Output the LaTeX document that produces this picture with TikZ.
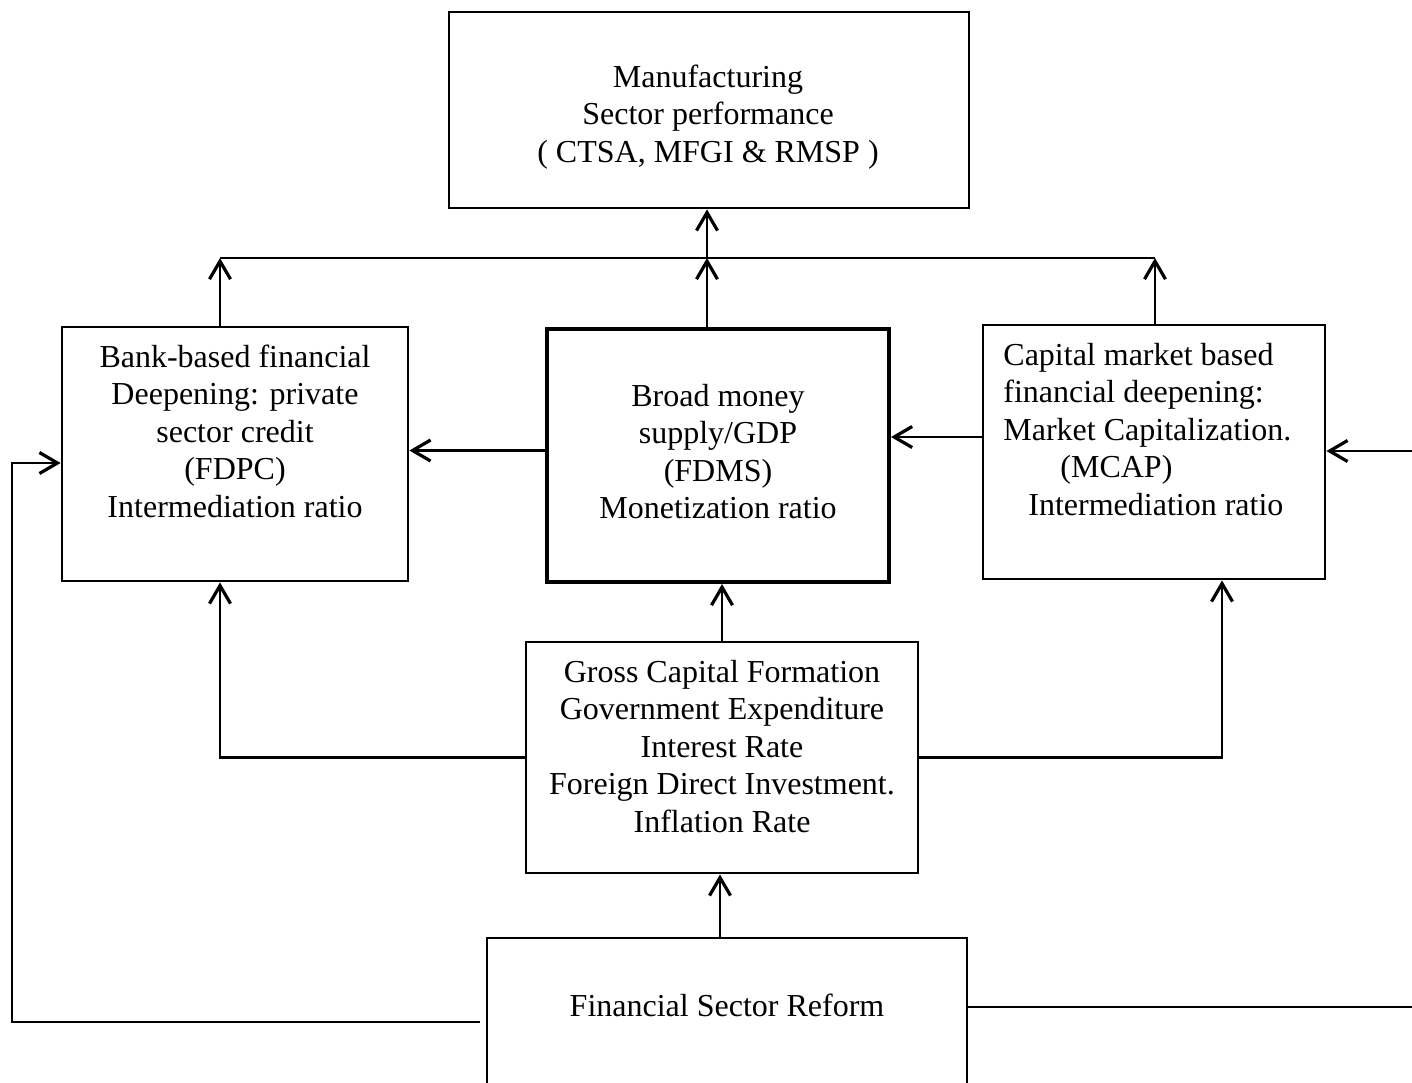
\documentclass[tikz,border=0pt]{standalone}
\usepackage{fontspec}
\setmainfont{Liberation Serif}
\usetikzlibrary{positioning,calc,arrows.meta}

\begin{document}
\begin{tikzpicture}[x=0.5pt,y=-0.5pt,
        box/.style={draw,line width=1.4pt,inner sep=0pt},
        txt/.style={align=center,inner sep=0pt,font=\fontsize{16pt}{18.75pt}\selectfont},
        arr/.style={line width=1.4pt,-{Straight Barb[length=9pt,width=10.5pt,line width=1.6pt]}},
        ln/.style={line width=1.4pt}]
        \useasboundingbox (0,0) rectangle (1412,1082);
        \clip (0,0) rectangle (1412,1082);
        \fill[white] (0,0) rectangle (1412,1082);

        \node (top) [box,minimum width=260pt,minimum height=98pt] at (709,110) {};
        \node (bank) [box,minimum width=173pt,minimum height=127pt] at (235,454) {};
        \node (money) [box,line width=2pt,minimum width=171pt,minimum height=126.5pt] at (718,455.5) {};
        \node (cap) [box,minimum width=171pt,minimum height=127pt] at (1154,452) {};
        \node (gcf) [box,minimum width=196pt,minimum height=115.5pt] at (722,757.5) {};
        \node (reform) [box,minimum width=240pt,minimum height=100pt] at (727,1038) {};

        \node (toptxt) [txt] at (708,117) {Manufacturing\\Sector performance\\( CTSA, MFGI \& RMSP )};
        \node (banktxt) [txt] at (235,431) {Bank-based financial\\Deepening: private\\sector credit\\(FDPC)\\Intermediation ratio};
        \node (moneytxt) [txt] at (718,451.5) {Broad money\\supply/GDP\\(FDMS)\\Monetization ratio};
        \node (captxt) [txt,align=left,anchor=west] at (1003,429.5) {Capital market based\\financial deepening:\\Market Capitalization.\\\hspace*{28.5pt}(MCAP)\\\hspace*{12.5pt}Intermediation ratio};
        \node (gcftxt) [txt] at (722,746.5) {Gross Capital Formation\\Government Expenditure\\Interest Rate\\Foreign Direct Investment.\\Inflation Rate};
        \node (reformtxt) [txt] at (727,1005) {Financial Sector Reform};

        \coordinate (jl) at (220,258);
        \coordinate (jm) at (707,258);
        \coordinate (jr) at (1155,258);
        \coordinate (kl) at (220,759);
        \coordinate (kr) at (1222,759);
        \coordinate (re) at (1412,451);
        \coordinate (rm) at (983,437);
        \coordinate (lg) at (480,1022);
        \coordinate (ll) at (12,1022);
        \coordinate (lu) at (12,463);
        \coordinate (rr) at (1412,1007);

        \draw[arr] (bank.north -| jl) -- (jl);
        \draw[ln] (jl) -- (jr);
        \draw[arr] (money.north -| jm) -- (jm);
        \draw[arr] (jm) -- (top.south -| jm);
        \draw[arr] (cap.north -| jr) -- (jr);
        \draw[arr] ([yshift=2.5pt]money.west) -- ([yshift=2.5pt]money.west -| bank.east);
        \draw[arr] (rm) -- (rm -| money.east);
        \draw[arr] (re) -- (re -| cap.east);
        \draw[arr] (gcf.north) -- (gcf.north |- money.south);
        \draw[arr] (gcf.west) -| (bank.south -| kl);
        \draw[arr] (gcf.east) -| (cap.south -| kr);
        \draw[arr] ([xshift=-3.5pt]reform.north) -- ([xshift=-3.5pt]reform.north |- gcf.south);
        \draw[arr] (lg) -- (ll) -- (lu) -- (lu -| bank.west);
        \draw[ln] (rr -| reform.east) -- (rr);
    \end{tikzpicture}
\end{document}
